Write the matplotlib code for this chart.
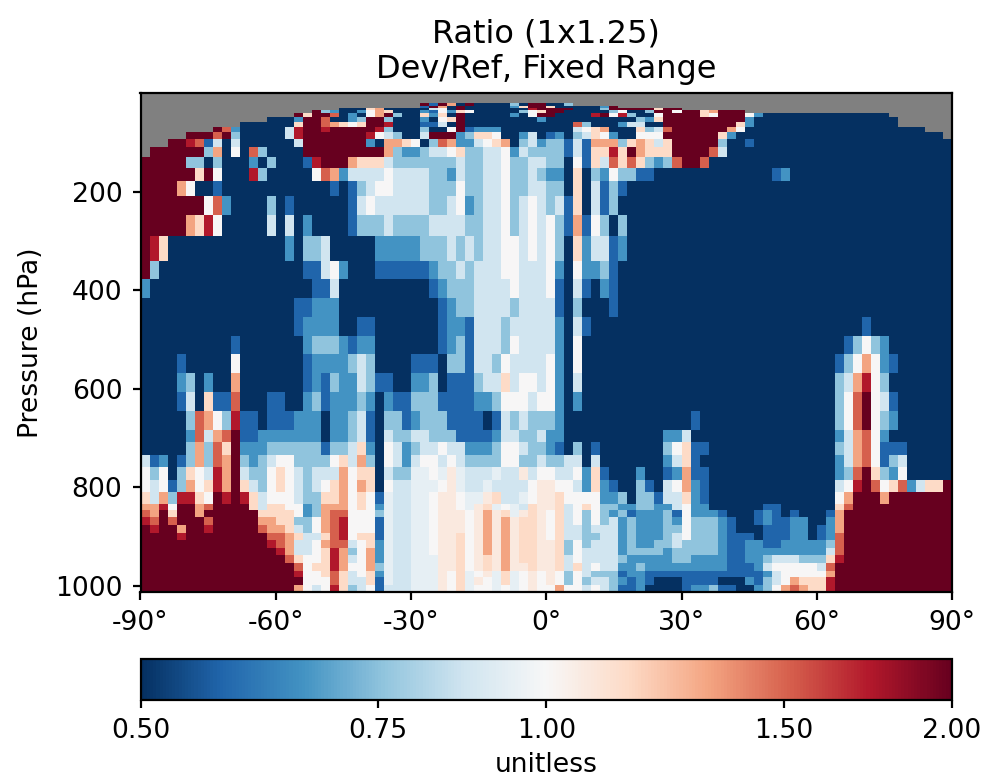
import numpy as np
import matplotlib
matplotlib.use("Agg")
import matplotlib.pyplot as plt
from matplotlib.colors import LogNorm

TITLE = "Ratio (1x1.25)\nDev/Ref, Fixed Range"
Y_LABEL = "Pressure (hPa)"
CBAR_LABEL = "unitless"
X_TICKS = [-90, -60, -30, 0, 30, 60, 90]
X_TICK_LABELS = ["-90°", "-60°", "-30°", "0°", "30°", "60°", "90°"]
Y_TICKS = [200, 400, 600, 800, 1000]
CBAR_TICKS = [0.5, 0.75, 1.0, 1.5, 2.0]
CBAR_TICK_LABELS = ["0.50", "0.75", "1.00", "1.50", "2.00"]

# latitude band edges: 2 degree bands
LAT_EDGES = list(range(-90, 92, 2))
# pressure level edges (hPa)
P_EDGES = [21, 25.7, 30.5, 34.5, 41.3, 49.4, 58.2, 68.4, 78.5, 93.4, 109, 129, 152, 178, 208,
           248, 290, 341, 378, 415, 454, 493, 530, 568, 606, 645, 684, 708, 735, 759, 786,
           809, 833, 847, 860, 877, 893, 907, 924, 938, 954, 969, 983, 999, 1012.5]

# ratio read from each colour; '.' is no data
RATIO_CODES = {"0": 0.50, "1": 0.574, "2": 0.66, "3": 0.758, "4": 0.871, "b": 0.94, "5": 1.0,
               "p": 1.07, "6": 1.149, "7": 1.32, "8": 1.516, "9": 1.741, "A": 2.0}

# one string per pressure level (top to bottom), one code per latitude band (south to north)
RATIO_ROWS = [
 "..... ..... ..... ..... ..... ..... .A1A7 0A000 030AA  003.. ..... ..... ..... ..... ..... ..... ..... .....",
 "..... ..... ..... ..... ..... ..... .1A70 A0000 026AA  60000 02A.. ..... ..... ..... ..... ..... ..... .....",
 "..... ..... ..... ..... ..000 67000 00450 A0000 0009A  AAA00 03AAA AA6AA ..... ..... ..... ..... ..... .....",
 "..... ..... ..... ....A 32002 57600 02152 65000 00356  AA000 00350 03AA5 AA67A AA... ..... ..... ..... .....",
 "..... ..... ..... ..A6A A8020 57A30 06260 A0000 0205A  A0000 9A593 005AA AA65A AA520 00000 00000 000.. .....",
 "..... ..... ....0 002AA 80023 AA300 02056 A0000 00002  00000 00000 326AA AAAAA AA200 00000 00000 0000. .....",
 "..... ..... .0000 006AA 87656 AA900 01140 A0000 00000  00083 00024 400AA AAAAA A6200 00000 00000 0000. .....",
 "..... ...A8 20000 049AA 9AAAA A9300 03005 A1222 00000  00045 67000 6348A AAAAA 75000 00000 00000 00000 00...",
 ".....AAA8A 30000 049AA AAAAA 95430 04AAA 23665 00240  12034 65200 555AA AAAA6 20000 00000 00000 00000 0000.",
 "...AA 98140 40000 004AA AAAAA 20776 50387 22456 70342  33141 77736 7646A AAAA3 00100 00000 00000 00000 00000",
 ".AAAA AA370 50830 000AA AAAAA AA732 23445 63344 52433  33141 6696A 7666A AAA84 00000 00000 00000 00000 00000",
 "AAAAA 33030 00203 00019 AAA76 66433 33333 43344 53344  33051 64868 63238 AA800 00000 00000 00000 00000 00000",
 "AAAAA A6A50 00930 00005 87244 44544 44332 43344 53343  22060 32533 11000 00000 00000 12000 00000 00000 00000",
 "AAAA7 50010 00000 00000 01013 45544 44333 53344 53344  33060 41310 00000 00000 00000 00000 00000 00000 00000",
 "AAAAA AA582 00003 01000 00014 54444 44334 52344 53454  34160 41300 00000 00000 00000 00000 00000 00000 00000",
 "AAAAA 76950 00004 04020 00013 33433 33444 43344 53454  53171 53030 00000 00000 00000 00000 00000 00000 00000",
 "A9600 00000 00000 02033 40000 02222 23334 34344 55454  53062 44120 00000 00000 00000 00000 00000 00000 00000",
 "A3000 00000 00000 00011 45200 01111 11233 43444 55444  52052 23100 00000 00000 00000 00000 00000 00000 00000",
 "20000 00000 00000 00001 14000 00000 00123 33444 45444  51041 02100 00000 00000 00000 00000 00000 00000 00000",
 "00000 00000 00000 00112 22000 00000 00012 33444 43444  41030 00100 00000 00000 00000 00000 00000 00000 00000",
 "00000 00000 00000 00122 22001 10000 00012 21444 34444  42041 00000 00000 00000 00000 00000 00000 10000 00000",
 "00000 00000 10000 00023 33212 20000 00012 31444 35444  42050 00000 00000 00000 00000 00000 00013 53200 00000",
 "00001 00000 50000 00012 22234 30000 11103 31443 54444  52050 00000 00000 00000 00000 00000 00135 75210 00000",
 "00002 30200 70000 00012 13224 31100 22301 11344 64554  52040 00000 00000 00000 00000 00000 00347 95300 00000",
 "00001 40611 80001 10023 12223 20211 33311 11223 55545  52020 00000 00000 00000 00000 00000 00358 A5410 00000",
 "00000 38753 91101 11222 02234 10331 23331 11101 43433  32000 00000 00000 01000 00000 00000 00358 A5320 00000",
 "00000 28478 A1122 22222 02234 10433 44333 11112 44334  22000 00000 00022 40000 00000 00000 00247 85200 00000",
 "00000 37386 A2223 33333 13346 20542 34454 42223 55433  21030 10000 00035 61100 00000 00000 00347 85111 00000",
 "41201 37387 A3234 55333 35647 30542 45545 43333 55334  33440 40000 00024 61000 00000 00000 00247 85134 00000",
 "53503 65497 A4335 65434 44756 60433 bb5bp b444b 44p45  54452 61000 20012 71100 00000 00000 00238 A6325 00000",
 "54513 75697 A6435 65434 56757 60544 bbb5p b44b4 4445p  p5542 62100 31045 72100 00000 00000 00459 A8568 2466A",
 "64739 965A9 A9645 55433 66756 51b44 bb5pp 5bbp6 44b5p  p6555 52230 33144 62100 00000 00000 0057A AA7AA AAAAA",
 "7795A A78AA AA646 65523 77756 52b44 bb5pp 5bp6b 5b46p  p6456 53322 33224 52200 00001 10000 0068A AAAAA AAAAA",
 "87A6A A7AAA AAA66 66523 78855 53b44 bb5pp p5p7p 6bp6p  56453 53231 22231 52221 00012 10100 017AA AAAAA AAAAA",
 "98A8A AA8AA AAA77 66335 78955 51b44 bb5pp p5p7p 7p66p  56453 53423 22232 53332 10012 11220 027AA AAAAA AAAAA",
 "A9AA7 AA9AA AAA87 76435 78955 51b44 bb5pp p5p7p 7p66p  56443 44423 22233 53332 10001 11220 127AA AAAAA AAAAA",
 "AAAA9 AAAAA AAAA8 87644 68956 61b44 bb5pp 65p7p 7p66p  56443 34423 22234 53332 11101 11220 128AA AAAAA AAAAA",
 "AAAAA AAAAA AAAA9 87445 78845 62b44 bb5pp 65p7p 7p66p  p6353 44423 22334 33332 11221 12222 238AA AAAAA AAAAA",
 "AAAAA AAAAA AAAAA 97445 69735 72b44 bb5pp 65p7p 7p66p  p6354 44423 33323 33332 11222 22222 248AA AAAAA AAAAA",
 "AAAAA AAAAA AAAAA A8655 69745 72b44 bbbpp 65p6p 7p66p  p6454 44432 22223 32222 11223 44433 369AA AAAAA AAAAA",
 "AAAAA AAAAA AAAAA AA856 69755 73b44 bbbpp 65p6p 7pp6p  p6464 54422 32222 22222 11124 55555 48AAA AAAAA AAAAA",
 "AAAAA AAAAA AAAAA AA955 68645 62b44 bbbp5 6b5pb 6b5p5  p5354 33312 21111 11111 11112 45555 57AAA AAAAA AAAAA",
 "AAAAA AAAAA AAAAA AAA55 58644 61b44 bbbp5 6bp5b 6b5p5  p5353 44321 21000 11110 00213 45766 69AAA AAAAA AAAAA",
 "AAAAA AAAAA AAAAA AA754 59634 51444 bbbp5 6b55b 5b5p5  57554 54311 20000 12231 10023 57876 69AAA AAAAA AAAAA",
]


def decode(row):
    chars = row.replace(" ", "")
    chars = (chars + "0" * 90)[:90]
    return [RATIO_CODES.get(c, np.nan) for c in chars]


values = np.ma.masked_invalid(np.array([decode(r) for r in RATIO_ROWS], dtype=float))

plt.rcParams["font.family"] = "DejaVu Sans"
W, H = 1001, 779
fig = plt.figure(figsize=(W / 200, H / 200), dpi=200)
ax = fig.add_axes([140.5 / W, 1 - 592 / H, (952 - 140.5) / W, (592 - 93) / H])
ax.set_facecolor("#808080")

mesh = ax.pcolormesh(LAT_EDGES, P_EDGES, values, cmap="RdBu_r",
                     norm=LogNorm(vmin=0.5, vmax=2.0), shading="flat")
ax.set_xlim(-90, 90)
ax.set_ylim(1012.5, 0)
ax.set_xticks(X_TICKS)
ax.set_xticklabels(X_TICK_LABELS)
ax.set_yticks(Y_TICKS)
ax.set_ylabel(Y_LABEL, fontsize=9.6, labelpad=4)
ax.tick_params(labelsize=9.6, length=3, width=0.8)
ax.set_title(TITLE, fontsize=11.5, pad=5.3)

cax = fig.add_axes([140.5 / W, 1 - 699.5 / H, (952 - 140.5) / W, (699.5 - 658.5) / H])
cb = fig.colorbar(mesh, cax=cax, orientation="horizontal")
cb.set_ticks(CBAR_TICKS)
cb.set_ticklabels(CBAR_TICK_LABELS)
cb.minorticks_off()
cb.ax.tick_params(labelsize=9.6, length=3, width=0.8)
cb.set_label(CBAR_LABEL, fontsize=9.6, labelpad=3.2)

fig.savefig("out.png", dpi=200)
